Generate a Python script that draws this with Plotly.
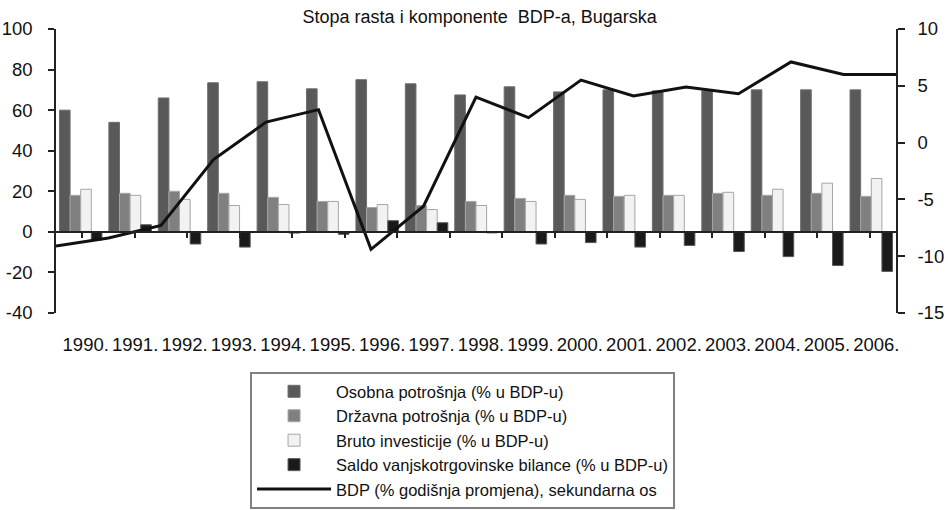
import plotly.graph_objects as go

FONT = "Liberation Sans, Arial, sans-serif"

years = ["1990.", "1991.", "1992.", "1993.", "1994.", "1995.", "1996.", "1997.", "1998.",
         "1999.", "2000.", "2001.", "2002.", "2003.", "2004.", "2005.", "2006."]
osobna = [60, 54, 66, 73.5, 74, 70.5, 75, 73, 67.5, 71.5, 69, 70, 69.5, 69.5, 70, 70, 70]
drzavna = [18, 19, 20, 19, 17, 15, 12, 13, 15, 16.5, 18, 17.5, 18, 19, 18, 19, 17.5]
bruto = [21, 18, 16, 13, 13.5, 15, 13.5, 11, 13, 15, 16, 18, 18, 19.5, 21, 24, 26.3]
saldo = [-4, 3.5, -6, -7.5, -0.6, -1.2, 5.5, 4.5, -0.5, -6, -5.3, -7.5, -6.7, -9.7, -12.2, -16.6, -19.5]
bdp = [-9.1, -8.4, -7.3, -1.5, 1.8, 2.9, -9.4, -5.6, 4.0, 2.2, 5.5, 4.1, 4.9, 4.3, 7.1, 6.0, 6.0]

left_ticks = [-40, -20, 0, 20, 40, 60, 80, 100]
right_ticks = [-15, -10, -5, 0, 5, 10]

bar_series = [
    ("Osobna potrošnja (% u BDP-u)", osobna, "#595959", "#6e6e6e"),
    ("Državna potrošnja (% u BDP-u)", drzavna, "#808080", "#a6a6a6"),
    ("Bruto investicije (% u BDP-u)", bruto, "#f2f2f2", "#a6a6a6"),
    ("Saldo vanjskotrgovinske bilance (% u BDP-u)", saldo, "#1a1a1a", "#595959"),
]

fig = go.Figure()
for name, vals, fill, edge in bar_series:
    fig.add_trace(go.Bar(
        x=years, y=vals, name=name,
        marker=dict(color=fill, line=dict(color=edge, width=1)),
        xaxis="x", yaxis="y",
    ))

fig.add_trace(go.Scatter(
    x=years, y=bdp, name="BDP (% godišnja promjena), sekundarna os",
    mode="lines", line=dict(color="#111111", width=3),
    xaxis="x2", yaxis="y2",
))

fig.update_layout(
    width=948, height=510,
    paper_bgcolor="white", plot_bgcolor="white",
    font=dict(family=FONT, size=18, color="#111111"),
    margin=dict(l=56, r=52, t=29, b=197, autoexpand=False),
    barmode="group", bargap=0.14, bargroupgap=0,
    title=dict(text="Stopa rasta i komponente  BDP-a, Bugarska",
               font=dict(family=FONT, size=18, color="#111111"),
               x=0.506, xref="container", xanchor="center",
               y=1 - 16.5 / 510, yref="container", yanchor="middle"),
    xaxis=dict(
        domain=[0, 1], showline=False, ticks="", showgrid=False,
        tickfont=dict(size=18.5), ticklabelstandoff=18, ticklabelshift=5,
        automargin=False,
    ),
    xaxis2=dict(
        overlaying="x", anchor="free", position=40 / 140,
        categoryarray=years, categoryorder="array",
        showline=True, linecolor="#222222", linewidth=1.5,
        ticks="outside", tickson="boundaries", ticklen=5, tickcolor="#222222",
        tickwidth=1.5, showticklabels=False, showgrid=False, automargin=False,
    ),
    yaxis=dict(
        range=[-40, 100], tickvals=left_ticks, ticktext=[str(v) for v in left_ticks],
        showline=True, linecolor="#222222", linewidth=1.5,
        ticks="outside", ticklen=6, tickcolor="#222222", tickwidth=1.5,
        showgrid=False, zeroline=True, zerolinecolor="#222222", zerolinewidth=1.5,
        tickfont=dict(size=18.5), ticklabelstandoff=12, automargin=False,
    ),
    yaxis2=dict(
        range=[-15, 10], tickvals=right_ticks, ticktext=[str(v) for v in right_ticks],
        overlaying="y", side="right", anchor="x",
        showline=True, linecolor="#222222", linewidth=1.5,
        ticks="outside", ticklen=7, tickcolor="#222222", tickwidth=1.5,
        showgrid=False, zeroline=False,
        tickfont=dict(size=18.5), ticklabelstandoff=9, automargin=False,
    ),
    legend=dict(
        x=0.231, y=-0.208, xanchor="left", yanchor="top",
        bordercolor="#808080", borderwidth=2, bgcolor="white",
        font=dict(family=FONT, size=16.5), tracegroupgap=0,
        itemwidth=74,
    ),
)

# drop the default 8px page margin so the figure fills the window
fig.write_html("out.html", config={"displayModeBar": False},
               post_script="document.body.style.margin='0';document.body.style.overflow='hidden';")
